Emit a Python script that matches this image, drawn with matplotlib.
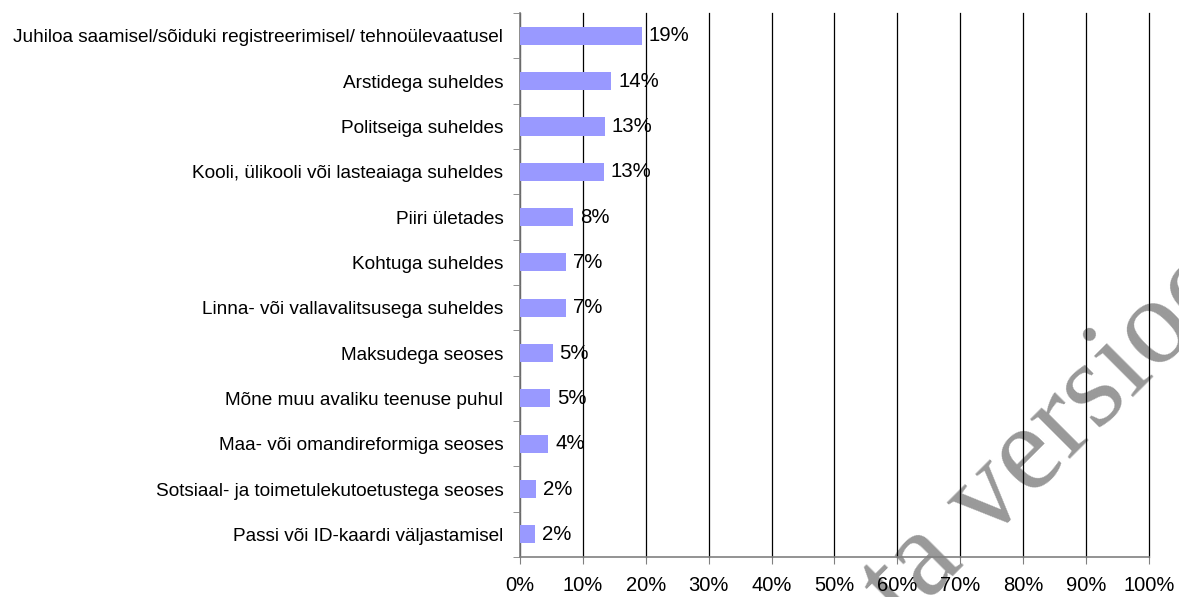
import matplotlib.pyplot as plt
from matplotlib.ticker import FixedLocator

categories = [
    "Juhiloa saamisel/sõiduki registreerimisel/ tehnoülevaatusel",
    "Arstidega suheldes",
    "Politseiga suheldes",
    "Kooli, ülikooli või lasteaiaga suheldes",
    "Piiri ületades",
    "Kohtuga suheldes",
    "Linna- või vallavalitsusega suheldes",
    "Maksudega seoses",
    "Mõne muu avaliku teenuse puhul",
    "Maa- või omandireformiga seoses",
    "Sotsiaal- ja toimetulekutoetustega seoses",
    "Passi või ID-kaardi väljastamisel",
]
values = [19.4, 14.5, 13.5, 13.3, 8.5, 7.4, 7.3, 5.2, 4.8, 4.5, 2.5, 2.4]
value_labels = ["19%", "14%", "13%", "13%", "8%", "7%", "7%", "5%", "5%", "4%", "2%", "2%"]
x_ticks = [0, 10, 20, 30, 40, 50, 60, 70, 80, 90, 100]

plt.rcParams['font.family'] = ['Liberation Sans', 'DejaVu Sans']

fig = plt.figure(figsize=(11.79, 5.97), dpi=100)
ax = fig.add_axes([0.441, 0.067, 0.5336, 0.911])
ax.patch.set_visible(False)

n = len(categories)
ypos = list(range(n))[::-1]

ax.barh(ypos, values, height=0.4, color='#9999FF', zorder=3)
for y, v, lab in zip(ypos, values, value_labels):
    ax.text(v + 1.1, y, lab, va='center', ha='left', fontsize=14.7, zorder=4)

ax.set_xlim(0, 100)
ax.set_ylim(-0.5, n - 0.5)

ax.set_xticks(x_ticks)
ax.set_xticklabels([f"{t}%" for t in x_ticks], fontsize=14.5)
ax.xaxis.grid(True, color='black', linewidth=0.9, zorder=0)
for gl in ax.get_xgridlines():
    gl.set_clip_on(False)
ax.tick_params(axis='x', direction='out', length=5, color='#808080', pad=9)

ax.set_yticks(ypos)
ax.set_yticklabels(categories, fontsize=13.7)
ax.yaxis.set_minor_locator(FixedLocator([k + 0.5 for k in range(-1, n)]))
ax.tick_params(axis='y', which='major', length=0, pad=12)
ax.tick_params(axis='y', which='minor', direction='out', length=5, color='#808080')

for side in ['top', 'right']:
    ax.spines[side].set_visible(False)
ax.spines['left'].set_color('#808080')
ax.spines['bottom'].set_color('#808080')
ax.spines['left'].set_linewidth(1.2)
ax.spines['bottom'].set_linewidth(1.2)
ax.set_axisbelow(True)

# watermark, partly outside the canvas
fig.text(0.7661, -0.0484, "ta versioon", rotation=45, rotation_mode='anchor',
         ha='left', va='baseline', fontsize=88, color='#999999',
         family=['Liberation Serif'], zorder=-1)

fig.savefig("out.png", dpi=100)
